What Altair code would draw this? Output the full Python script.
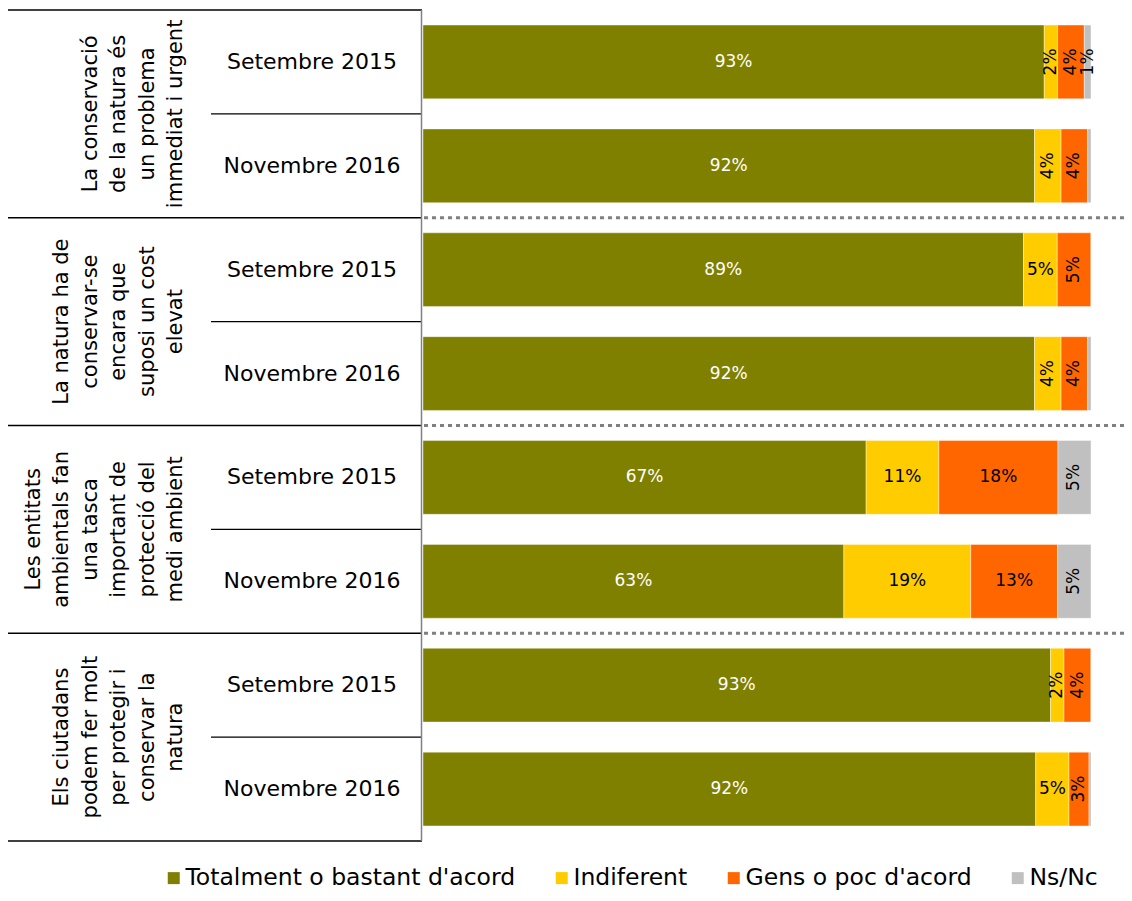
import altair as alt
import pandas as pd

FONT = "DejaVu Sans"

questions = [
    ["La conservació", "de la natura és", "un problema", "immediat i urgent"],
    ["La natura ha de", "conservar-se", "encara que", "suposi un cost", "elevat"],
    ["Les entitats", "ambientals fan", "una tasca", "important de", "protecció del", "medi ambient"],
    ["Els ciutadans", "podem fer molt", "per protegir i", "conservar la", "natura"],
]
periods = ["Setembre 2015", "Novembre 2016"]
categories = ["Totalment o bastant d'acord", "Indiferent", "Gens o poc d'acord", "Ns/Nc"]
colors = ["#808000", "#FFCC00", "#FF6600", "#C0C0C0"]

totalment = [93, 92, 89, 92, 67, 63, 93, 92]
indiferent = [2, 4, 5, 4, 11, 19, 2, 5]
gens = [4, 4, 5, 4, 18, 13, 4, 3]
nsnc = [1, 0.5, 0, 0.5, 5, 5, 0, 0.3]

series = [totalment, indiferent, gens, nsnc]
n_rows = len(totalment)

recs = []
for r in range(n_rows):
    for k, cat in enumerate(categories):
        v = series[k][r]
        rot = (v < 5) or (v < 10 and cat != "Indiferent")
        recs.append({"row": r, "cat": cat, "order": k, "value": v,
                     "label": f"{round(v)}%", "rot": bool(rot)})
df = pd.DataFrame(recs)

date_df = pd.DataFrame({"row": list(range(n_rows)),
                        "period": [periods[i % 2] for i in range(n_rows)]})
date_df["yc"] = date_df["row"] + 0.5
q_df = pd.DataFrame({"q": list(range(len(questions))),
                     "text": questions,
                     "nlines": [len(q) for q in questions]})
q_df["yc"] = q_df["q"] * 2 + 1
bounds = pd.DataFrame({"b": list(range(n_rows + 1))})

W, H = 1116, 831
xscale = alt.Scale(domain=[0, 1], range=[415, 1083], nice=False, zero=False)
yscale = alt.Scale(domain=[0, n_rows], range=[0, H], nice=False, zero=False)

base = alt.Chart(df).transform_stack(
    stack="value", groupby=["row"], sort=[alt.SortField("order")],
    as_=["x0", "x1"], offset="normalize"
).transform_calculate(
    xm="(datum.x0 + datum.x1) / 2",
    ya="datum.row + 0.145",
    yb="datum.row + 0.855",
    yc="datum.row + 0.5",
)

bars = base.mark_bar(stroke="white", strokeWidth=0.4).encode(
    x=alt.X("x0:Q", scale=xscale, axis=None),
    x2="x1:Q",
    y=alt.Y("ya:Q", scale=yscale, axis=None),
    y2="yb:Q",
    color=alt.Color("cat:N", scale=alt.Scale(domain=categories, range=colors),
                    legend=alt.Legend(orient="none", legendX=154, legendY=856,
                                      direction="horizontal", title=None,
                                      symbolType="square", symbolSize=144,
                                      symbolStrokeWidth=0, labelFontSize=23.5,
                                      labelFont=FONT, labelColor="black",
                                      labelLimit=500, columnPadding=34,
                                      labelOffset=0, symbolOffset=0)),
)

txt_color = alt.condition(alt.datum.order == 0, alt.value("white"), alt.value("black"))

hlabels = base.transform_filter("datum.value >= 1 && !datum.rot").mark_text(
    font=FONT, fontSize=17, align="center", baseline="middle"
).encode(x=alt.X("xm:Q", scale=xscale), y=alt.Y("yc:Q", scale=yscale),
         text="label:N", color=txt_color)

vlabels = base.transform_filter("datum.value >= 1 && datum.rot").mark_text(
    font=FONT, fontSize=17, align="center", baseline="middle", angle=270
).encode(x=alt.X("xm:Q", scale=xscale), y=alt.Y("yc:Q", scale=yscale),
         text="label:N", color=alt.value("black"))

dates = alt.Chart(date_df).mark_text(font=FONT, fontSize=22, color="black",
                                     align="center", baseline="middle").encode(
    x=alt.value(304), y=alt.Y("yc:Q", scale=yscale), text="period:N")

qtext = alt.Chart(q_df).transform_calculate(
    xa="178 - (datum.nlines - 1) * 28.5"
).mark_text(font=FONT, fontSize=21, color="black",
            align="center", baseline="bottom", angle=270,
            lineHeight=28.5).encode(
    x=alt.X("xa:Q", scale=None), y=alt.Y("yc:Q", scale=yscale), text="text")

group_lines = alt.Chart(bounds).transform_filter("datum.b % 2 == 0").mark_rule(
    color="black", strokeWidth=1.5).encode(
    x=alt.value(0), x2=alt.value(414), y=alt.Y("b:Q", scale=yscale))

row_lines = alt.Chart(bounds).transform_filter("datum.b % 2 == 1").mark_rule(
    color="black", strokeWidth=1.2).encode(
    x=alt.value(203), x2=alt.value(414), y=alt.Y("b:Q", scale=yscale))

dotted = alt.Chart(bounds).transform_filter(
    "datum.b % 2 == 0 && datum.b > 0 && datum.b < " + str(n_rows)).mark_rule(
    color="#808080", strokeWidth=3, strokeDash=[4, 4]).encode(
    x=alt.value(416), x2=alt.value(W), y=alt.Y("b:Q", scale=yscale))

vline = alt.Chart(bounds).transform_filter("datum.b == 0").mark_rule(
    color="#808080", strokeWidth=1.5).encode(
    x=alt.value(413.5), y=alt.value(0), y2=alt.value(H))

chart = alt.layer(
    bars, hlabels, vlabels, dates, qtext, group_lines, row_lines, dotted, vline
).properties(
    width=W, height=H,
    autosize=alt.AutoSizeParams(type="none"),
    padding={"left": 0, "top": 2, "right": 0, "bottom": 52},
).configure_view(stroke=None)

chart.save("out.html", embed_options={"renderer": "svg", "actions": False})
